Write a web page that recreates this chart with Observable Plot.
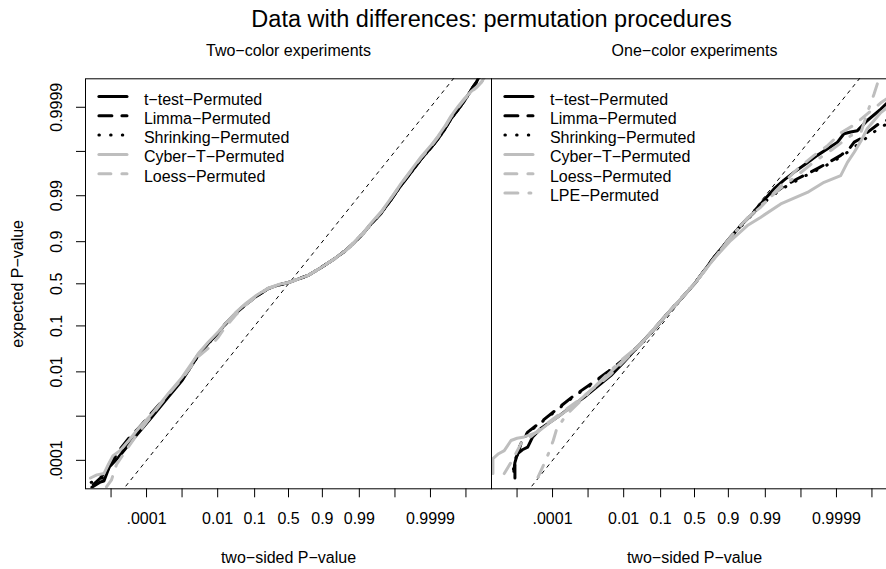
<!DOCTYPE html>
<html><head><meta charset="utf-8">
<script src="https://cdn.jsdelivr.net/npm/d3@7"></script>
<script src="https://cdn.jsdelivr.net/npm/@observablehq/plot@0.6"></script>
<style>
html,body{margin:0;padding:0;background:#fff;overflow:hidden;}
#chart{width:900px;}
#chart svg{display:block;max-width:none !important;width:900px !important;height:569px !important;}
</style></head><body><div id="chart"></div>
<script>
// All positions are in log10-odds units: log10(p / (1 - p)).
const panels = ["Two−color experiments", "One−color experiments"];
const mainTitle = "Data with differences: permutation procedures";
const xTitle = "two−sided P−value";
const yTitle = "expected P−value";

const xTickP = [0.00001, 0.0001, 0.001, 0.01, 0.1, 0.5, 0.9, 0.99, 0.999, 0.9999, 0.99999];
const xTickLabels = ["", ".0001", "", "0.01", "0.1", "0.5", "0.9", "0.99", "", "0.9999", ""];
const yTickP = [0.0001, 0.001, 0.01, 0.1, 0.5, 0.9, 0.99, 0.999, 0.9999];
const yTickLabels = [".0001", "", "0.01", "0.1", "0.5", "0.9", "0.99", "", "0.9999"];

const twoColorNames = ["t−test−Permuted", "Limma−Permuted", "Shrinking−Permuted", "Cyber−T−Permuted", "Loess−Permuted"];
const oneColorNames = ["t−test−Permuted", "Limma−Permuted", "Shrinking−Permuted", "Cyber−T−Permuted", "Loess−Permuted", "LPE−Permuted"];

// reference line (observed = expected)
const identityLine = [-6, 6];

// ---- Two-color experiments ----
const twoColorTTest = [[-5.54,-4.61],[-5.30,-4.49],[-5.20,-4.47],[-5.12,-4.30],[-5.05,-4.15],[-4.79,-3.93],[-4.41,-3.55],[-3.85,-3.02],[-3.40,-2.58],[-3.00,-2.19],[-2.54,-1.62],[-2.27,-1.36],[-1.97,-1.10],[-1.80,-0.93],[-1.50,-0.68],[-1.24,-0.49],[-0.90,-0.28],[-0.58,-0.11],[-0.25,-0.02],[0,0.03],[0.25,0.10],[0.55,0.19],[0.90,0.36],[1.30,0.57],[1.60,0.75],[1.86,0.94],[2.10,1.14],[2.33,1.36],[2.61,1.60],[2.90,1.92],[3.17,2.23],[3.45,2.52],[3.74,2.83],[4.00,3.07],[4.21,3.28],[4.40,3.50],[4.58,3.74],[4.78,3.95],[4.96,4.15],[5.10,4.33],[5.19,4.45],[5.28,4.55],[5.34,4.64],[5.40,4.75]];
const twoColorLimma = [[-5.50,-4.55],[-5.30,-4.40],[-5.10,-4.20],[-4.95,-4.00],[-4.75,-3.75],[-4.50,-3.50],[-4.20,-3.25],[-3.85,-2.92],[-3.40,-2.52],[-3.00,-2.17],[-2.54,-1.60],[-2.27,-1.35],[-1.97,-1.10],[-1.80,-0.93],[-1.50,-0.68],[-1.24,-0.49],[-0.90,-0.28],[-0.58,-0.11],[-0.25,-0.02],[0,0.03],[0.25,0.10],[0.55,0.19],[0.90,0.36],[1.30,0.57],[1.60,0.75],[1.86,0.94],[2.10,1.14],[2.33,1.36],[2.61,1.60],[2.90,1.92],[3.17,2.23],[3.45,2.52],[3.74,2.83],[4.00,3.07],[4.21,3.28],[4.40,3.50],[4.58,3.74],[4.78,3.95],[4.96,4.15],[5.10,4.33],[5.19,4.45],[5.30,4.57],[5.38,4.66],[5.44,4.75]];
const twoColorShrinking = [[-5.56,-4.50],[-5.35,-4.45],[-5.15,-4.35],[-5.00,-4.05],[-4.80,-3.85],[-4.55,-3.65],[-4.20,-3.30],[-3.85,-2.98],[-3.40,-2.55],[-3.00,-2.18],[-2.54,-1.62],[-2.27,-1.36],[-1.97,-1.10],[-1.80,-0.93],[-1.50,-0.68],[-1.24,-0.49],[-0.90,-0.28],[-0.58,-0.11],[-0.25,-0.02],[0,0.03],[0.25,0.10],[0.55,0.19],[0.90,0.36],[1.30,0.57],[1.60,0.75],[1.86,0.94],[2.10,1.14],[2.33,1.36],[2.61,1.60],[2.90,1.92],[3.17,2.23],[3.45,2.52],[3.74,2.83],[4.00,3.07],[4.21,3.28],[4.40,3.50],[4.58,3.74],[4.78,3.95],[4.96,4.15],[5.10,4.33],[5.22,4.47],[5.32,4.58],[5.38,4.66],[5.44,4.75]];
const twoColorCyberT = [[-5.58,-4.40],[-5.40,-4.33],[-5.20,-4.30],[-5.08,-4.10],[-4.95,-3.90],[-4.75,-3.78],[-4.50,-3.55],[-4.20,-3.25],[-3.85,-2.95],[-3.40,-2.50],[-3.00,-2.12],[-2.54,-1.58],[-2.27,-1.33],[-1.97,-1.08],[-1.80,-0.92],[-1.50,-0.66],[-1.24,-0.47],[-0.90,-0.26],[-0.58,-0.10],[-0.25,-0.01],[0,0.03],[0.25,0.10],[0.55,0.19],[0.90,0.36],[1.30,0.57],[1.60,0.75],[1.86,0.95],[2.10,1.15],[2.33,1.38],[2.61,1.63],[2.90,1.95],[3.17,2.27],[3.45,2.57],[3.74,2.88],[4.00,3.12],[4.21,3.34],[4.40,3.56],[4.58,3.80],[4.78,4.02],[4.96,4.20],[5.15,4.36],[5.30,4.46],[5.42,4.56],[5.51,4.66],[5.56,4.75]];
const twoColorLoess = [[-5.13,-4.60],[-4.99,-4.45],[-4.85,-4.10],[-4.60,-3.80],[-4.30,-3.45],[-3.85,-2.98],[-3.40,-2.52],[-3.00,-2.15],[-2.54,-1.65],[-2.20,-1.42],[-1.97,-1.20],[-1.80,-1.00],[-1.50,-0.72],[-1.24,-0.50],[-0.90,-0.28],[-0.58,-0.11],[-0.25,-0.02],[0,0.03],[0.25,0.10],[0.55,0.19],[0.90,0.36],[1.30,0.57],[1.60,0.74],[1.86,0.93],[2.10,1.13],[2.33,1.36],[2.61,1.62],[2.90,1.95],[3.17,2.26],[3.45,2.56],[3.74,2.86],[4.00,3.10],[4.21,3.32],[4.40,3.54],[4.58,3.78],[4.78,4.00],[4.96,4.18],[5.15,4.34],[5.30,4.45],[5.42,4.55],[5.51,4.64],[5.58,4.75]];

// ---- One-color experiments ----
const oneColorTTest = [[-5.09,-4.25],[-5.06,-4.05],[-4.99,-3.85],[-4.85,-3.76],[-4.70,-3.70],[-4.56,-3.47],[-4.33,-3.28],[-3.86,-3.02],[-3.50,-2.80],[-3.11,-2.57],[-2.74,-2.33],[-2.36,-2.08],[-2.00,-1.78],[-1.61,-1.44],[-1.20,-1.08],[-0.81,-0.72],[-0.40,-0.36],[0,0],[0.55,0.60],[1.02,1.06],[1.35,1.36],[1.68,1.62],[1.96,1.90],[2.24,2.15],[2.52,2.35],[2.81,2.53],[3.14,2.72],[3.46,2.91],[3.75,3.06],[4.03,3.21],[4.21,3.40],[4.40,3.44],[4.59,3.47],[4.87,3.70],[5.25,3.96],[5.61,4.24],[5.72,4.32]];
const oneColorLimma = [[-5.06,-4.40],[-5.06,-4.10],[-4.98,-3.85],[-4.89,-3.62],[-4.70,-3.36],[-4.33,-3.13],[-3.86,-2.83],[-3.39,-2.53],[-2.92,-2.27],[-2.45,-2.00],[-1.98,-1.70],[-1.51,-1.36],[-1.10,-1.00],[-0.81,-0.72],[0,0],[0.55,0.60],[1.02,1.06],[1.40,1.40],[1.80,1.75],[2.15,2.00],[2.50,2.20],[2.90,2.38],[3.20,2.50],[3.46,2.61],[3.80,2.76],[4.12,2.91],[4.35,3.05],[4.50,3.21],[4.70,3.30],[4.87,3.43],[5.25,3.66],[5.61,3.75],[5.72,3.80]];
const oneColorShrinking = [[-5.10,-4.20],[-5.02,-3.90],[-4.89,-3.60],[-4.70,-3.38],[-4.33,-3.15],[-3.86,-2.85],[-3.39,-2.55],[-2.92,-2.29],[-2.45,-2.02],[-1.98,-1.72],[-1.51,-1.38],[-1.10,-1.00],[-0.81,-0.72],[0,0],[0.55,0.60],[1.02,1.05],[1.40,1.38],[1.80,1.72],[2.15,1.97],[2.50,2.17],[2.90,2.35],[3.20,2.48],[3.46,2.58],[3.80,2.72],[4.12,2.88],[4.35,3.00],[4.50,3.10],[4.70,3.20],[4.87,3.33],[5.25,3.55],[5.61,3.70],[5.72,3.75]];
const oneColorCyberT = [[-5.68,-4.30],[-5.68,-3.96],[-5.52,-3.85],[-5.36,-3.78],[-5.17,-3.55],[-5.00,-3.50],[-4.80,-3.47],[-4.42,-3.36],[-4.05,-3.13],[-3.67,-2.91],[-3.30,-2.68],[-2.64,-2.21],[-2.10,-1.80],[-1.51,-1.36],[-0.81,-0.72],[0,0],[0.55,0.57],[1.02,0.98],[1.49,1.32],[1.87,1.51],[2.43,1.81],[3.18,2.07],[3.65,2.30],[4.12,2.45],[4.31,2.75],[4.50,2.98],[4.70,3.25],[4.87,3.52],[5.25,3.88],[5.61,4.10],[5.72,4.18]];
const oneColorLoess = [[-5.36,-4.30],[-5.10,-3.95],[-4.89,-3.62],[-4.61,-3.46],[-4.05,-3.10],[-3.20,-2.60],[-2.36,-2.05],[-1.51,-1.36],[-0.81,-0.72],[0,0],[1.02,1.06],[1.50,1.50],[1.87,1.74],[2.40,2.20],[2.90,2.60],[3.37,2.91],[3.75,3.13],[4.12,3.42],[4.50,3.60],[4.87,3.85],[5.25,4.10],[5.61,4.30],[5.72,4.36]];
const oneColorLPE = [[-4.41,-4.38],[-4.25,-4.10],[-4.10,-3.82],[-3.98,-3.55],[-3.88,-3.28],[-3.60,-2.96],[-2.92,-2.42],[-2.08,-1.74],[-1.51,-1.36],[-0.81,-0.72],[0,0],[1.02,1.06],[1.50,1.48],[1.87,1.77],[2.40,2.15],[2.99,2.52],[3.40,2.78],[3.84,3.02],[4.41,3.36],[4.69,3.43],[4.87,3.88],[5.06,4.30],[5.20,4.65]];

// ---- styles ----
const GRAY = "#bebebe";
const styles = {
  "t−test−Permuted":    {stroke: "black", dash: null},
  "Limma−Permuted":     {stroke: "black", dash: "13,10"},
  "Shrinking−Permuted": {stroke: "black", dash: "0.5,11.2"},
  "Cyber−T−Permuted":   {stroke: GRAY, dash: null},
  "Loess−Permuted":     {stroke: GRAY, dash: "12,11"},
  "LPE−Permuted":       {stroke: GRAY, dash: "13,11,2,11"}
};
const FONT = "'Liberation Sans', Arial, Helvetica, sans-serif";

const lo = p => Math.log10(p / (1 - p));
const xTicks = xTickP.map(lo);
const yTicks = yTickP.map(lo);
const xLabelMap = new Map(xTicks.map((t, i) => [t, xTickLabels[i]]));
const yLabelMap = new Map(yTicks.map((t, i) => [t, yTickLabels[i]]));

const xDomain = [-5.72, 5.72];
const yDomain = [-4.645, 4.645];

const seriesSets = [
  {panel: panels[0], names: twoColorNames, data: [twoColorTTest, twoColorLimma, twoColorShrinking, twoColorCyberT, twoColorLoess]},
  {panel: panels[1], names: oneColorNames, data: [oneColorTTest, oneColorLimma, oneColorShrinking, oneColorCyberT, oneColorLoess, oneColorLPE]}
];

const marks = [];
for (const panel of panels) {
  marks.push(Plot.line(identityLine.map(v => ({panel, v})), {
    x: "v", y: "v", fx: "panel", stroke: "black", strokeWidth: 1,
    strokeDasharray: "4,4", strokeLinecap: "butt", clip: true
  }));
}
for (const set of seriesSets) {
  set.names.forEach((name, i) => {
    const st = styles[name];
    const rows = set.data[i].map(([x, y]) => ({panel: set.panel, x, y}));
    marks.push(Plot.line(rows, {
      x: "x", y: "y", fx: "panel", stroke: st.stroke, strokeWidth: 3,
      strokeDasharray: st.dash, strokeLinecap: "round", strokeLinejoin: "round", clip: true
    }));
  });
}
for (const set of seriesSets) {
  set.names.forEach((name, i) => {
    const st = styles[name];
    marks.push(Plot.ruleY([{panel: set.panel, y: yDomain[1]}], {
      y: "y", fx: "panel", dy: 17.7 + 19.3 * i, insetLeft: 13.9, insetRight: 364,
      stroke: st.stroke, strokeWidth: 3, strokeDasharray: st.dash, strokeLinecap: "round"
    }));
  });
  marks.push(Plot.text([{panel: set.panel, label: set.names.join("\n")}], {
    fx: "panel", text: "label", frameAnchor: "top-left", textAnchor: "start",
    lineAnchor: "top", lineHeight: 1.206, dx: 58.4, dy: 12, fontSize: 16, fill: "black"
  }));
}
marks.push(Plot.text(panels.map(p => ({panel: p, label: p})), {
  fx: "panel", text: "label", frameAnchor: "top", lineAnchor: "bottom", dy: -22.8, fontSize: 16, fill: "black"
}));
marks.push(Plot.text(panels.map(p => ({panel: p, label: xTitle})), {
  fx: "panel", text: "label", frameAnchor: "bottom", lineAnchor: "bottom", dy: 74.4, fontSize: 16, fill: "black"
}));
marks.push(Plot.text([{panel: panels[0], label: yTitle}], {
  fx: "panel", text: "label", frameAnchor: "left", rotate: -90, textAnchor: "middle",
  lineAnchor: "bottom", dx: -62.3, fontSize: 16, fill: "black"
}));
marks.push(Plot.text([{panel: panels[0], label: mainTitle}], {
  fx: "panel", text: "label", frameAnchor: "top-right", textAnchor: "middle",
  lineAnchor: "bottom", dy: -52.3, fontSize: 23.5, fill: "black"
}));
marks.push(Plot.axisX({ticks: xTicks, tickFormat: d => xLabelMap.get(d), tickSize: 9, tickPadding: 15.3, fontSize: 16, label: null, anchor: "bottom"}));
marks.push(Plot.axisY({ticks: yTicks, tickFormat: d => yLabelMap.get(d), tickSize: 9, tickPadding: 14.8, tickRotate: -90, fontSize: 16, label: null, anchor: "left"}));
marks.push(Plot.frame({stroke: "black", strokeWidth: 1}));

const chart = Plot.plot({
  width: 900, height: 569,
  marginLeft: 84.3, marginRight: 2.6, marginTop: 78.3, marginBottom: 80.7,
  style: {fontFamily: FONT, fontSize: "16px", color: "black", background: "white", maxWidth: "none"},
  fx: {domain: panels, padding: 0, axis: null, label: null},
  x: {domain: xDomain},
  y: {domain: yDomain},
  marks
});
document.getElementById("chart").appendChild(chart);
</script></body></html>
